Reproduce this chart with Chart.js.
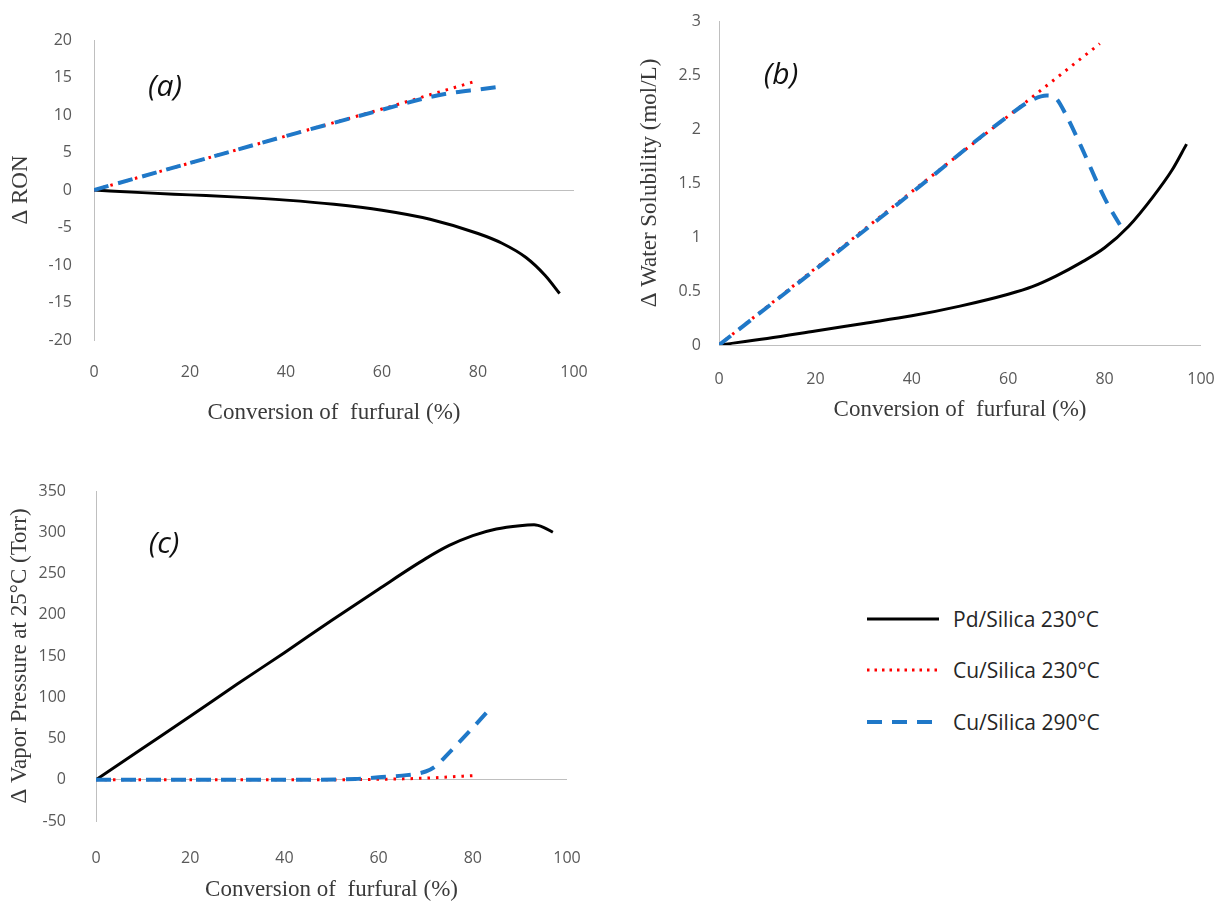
<!DOCTYPE html>
<html lang="en">
<head>
  <meta charset="UTF-8">
  <title>Furfural conversion panels</title>
  <script src="https://cdn.jsdelivr.net/npm/chart.js@4"></script>
  <style>
    body {
      margin: 0;
      background: #fff;
      overflow: hidden;
      width: 1215px;
      height: 904px;
      position: relative;
    }
    canvas { position: absolute; }
    #chartA { left: 0; top: 0; }
    #chartB { left: 600px; top: 0; }
    #chartC { left: 0; top: 460px; }
    .tag {
      position: absolute;
      font-family: "Open Sans", sans-serif;
      font-style: italic;
      font-size: 30px;
      color: #111;
      transform: translate(-50%, -50%);
    }
    .legend {
      position: absolute;
      left: 866px;
      top: 593px;
      font-family: "Open Sans", sans-serif;
      font-size: 21px;
      color: #262626;
    }
    .legend div {
      display: flex;
      align-items: center;
      height: 51.5px;
    }
    .legend svg { margin-right: 13px; }
  </style>
</head>
<body>
  <canvas id="chartA" width="600" height="440"></canvas>
  <canvas id="chartB" width="630" height="440"></canvas>
  <canvas id="chartC" width="600" height="444"></canvas>

  <div class="tag" style="left:165px; top:84px;">(a)</div>
  <div class="tag" style="left:781px; top:72px;">(b)</div>
  <div class="tag" style="left:164px; top:541px;">(c)</div>

  <div class="legend">
    <div><svg width="74" height="8"><line x1="1" y1="4" x2="73" y2="4" stroke="#000" stroke-width="3"/></svg>Pd/Silica 230°C</div>
    <div><svg width="74" height="8"><line x1="1" y1="4" x2="73" y2="4" stroke="#ff0000" stroke-width="3" stroke-dasharray="2.5 5"/></svg>Cu/Silica 230°C</div>
    <div><svg width="74" height="8"><line x1="1" y1="4" x2="73" y2="4" stroke="#1f78c8" stroke-width="4" stroke-dasharray="15 10"/></svg>Cu/Silica 290°C</div>
  </div>

  <script>
    // (a) delta RON
    const pdA_x = [0, 10, 20, 30, 40, 50, 60, 70, 80, 85, 90, 94, 97];
    const pdA_y = [0, -0.35, -0.65, -0.95, -1.35, -1.9, -2.7, -3.9, -5.8, -7.1, -9.0, -11.4, -13.8];
    const cu230A_x = [0, 20, 40, 60, 70, 79];
    const cu230A_y = [0, 3.6, 7.2, 10.8, 12.7, 14.4];
    const cu290A_x = [0, 20, 40, 60, 70, 75, 80, 85];
    const cu290A_y = [0, 3.6, 7.2, 10.7, 12.4, 13.0, 13.4, 13.8];

    // (b) delta water solubility
    const pdB_x = [0, 10, 20, 30, 40, 50, 60, 65, 70, 75, 80, 85, 90, 94, 97];
    const pdB_y = [0, 0.06, 0.13, 0.2, 0.27, 0.36, 0.47, 0.54, 0.64, 0.76, 0.9, 1.1, 1.37, 1.62, 1.86];
    const cu230B_x = [0, 20, 40, 60, 79];
    const cu230B_y = [0, 0.71, 1.42, 2.12, 2.79];
    const cu290B_x = [0, 20, 40, 60, 65, 68, 70, 72, 75, 80, 84];
    const cu290B_y = [0, 0.7, 1.41, 2.12, 2.27, 2.31, 2.28, 2.13, 1.85, 1.36, 1.05];

    // (c) delta vapor pressure
    const pdC_x = [0, 10, 20, 30, 40, 50, 60, 70, 75, 80, 85, 90, 93, 95, 97];
    const pdC_y = [0, 38.5, 77, 116, 154, 193, 231, 268, 284, 296, 304, 308, 309, 306, 300];
    const cu230C_x = [0, 20, 40, 60, 70, 80];
    const cu230C_y = [0, 0, 0, 0.5, 2, 5];
    const cu290C_x = [0, 20, 40, 55, 60, 65, 70, 72, 75, 80, 83.5];
    const cu290C_y = [0, 0, 0, 1, 3, 5, 10, 16, 33, 63, 85];

    const xTicks = { min: 0, max: 100, step: 20 };
    const yTicksA = { min: -20, max: 20, step: 5 };
    const yTicksB = { min: 0, max: 3, step: 0.5 };
    const yTicksC = { min: -50, max: 350, step: 50 };

    const tickFont = { family: '"Open Sans", sans-serif', size: 16 };
    const titleFont = { family: '"Liberation Serif", "Times New Roman", serif', size: 23 };

    function pts(xs, ys) {
      return xs.map((x, i) => ({ x: x, y: ys[i] }));
    }

    // blue first so it is painted on top, black last
    function lines(pdX, pdY, c230X, c230Y, c290X, c290Y) {
      return [
        { data: pts(c290X, c290Y), borderColor: '#1f78c8', borderWidth: 4, borderDash: [15, 10] },
        { data: pts(c230X, c230Y), borderColor: '#ff0000', borderWidth: 3, borderDash: [2.5, 6] },
        { data: pts(pdX, pdY), borderColor: '#000000', borderWidth: 3, borderDash: [] }
      ].map(d => Object.assign(d, { pointRadius: 0, fill: false, cubicInterpolationMode: 'monotone' }));
    }

    function createPanel(canvasId, datasets, yTicks, yTitle, box) {
      return new Chart(document.getElementById(canvasId), {
        type: 'line',
        data: { datasets: datasets },
        options: {
          responsive: false,
          animation: false,
          events: [],
          layout: { padding: { top: box.top, right: box.right, left: 0, bottom: 0 } },
          plugins: { legend: { display: false }, tooltip: { enabled: false } },
          scales: {
            x: {
              type: 'linear',
              min: xTicks.min,
              max: xTicks.max,
              ticks: { stepSize: xTicks.step, padding: box.xPad, color: '#595959', font: tickFont, maxRotation: 0 },
              grid: { display: false, drawTicks: false },
              border: { display: false },
              title: {
                display: true,
                text: 'Conversion of  furfural (%)',
                font: titleFont,
                color: '#3a3a3a',
                padding: { top: 0, bottom: box.xTitlePad }
              },
              // fixed box so the plot area lands where the original has it
              afterFit: s => { s.height = box.xH; s.paddingLeft = 0; s.paddingRight = 0; }
            },
            y: {
              type: 'linear',
              min: yTicks.min,
              max: yTicks.max,
              ticks: { stepSize: yTicks.step, padding: box.yPad, color: '#595959', font: tickFont, callback: v => String(v) },
              grid: {
                drawTicks: false,
                color: c => (c.tick && c.tick.value === 0) ? '#bfbfbf' : 'rgba(0,0,0,0)'
              },
              border: { display: true, color: '#bfbfbf' },
              title: {
                display: true,
                text: yTitle,
                font: titleFont,
                color: '#3a3a3a',
                padding: { top: box.yTitlePad, bottom: 0 }
              },
              afterFit: s => { s.width = box.yW; s.paddingTop = 0; s.paddingBottom = 0; }
            }
          }
        }
      });
    }

    createPanel('chartA', lines(pdA_x, pdA_y, cu230A_x, cu230A_y, cu290A_x, cu290A_y), yTicksA, 'Δ RON',
      { top: 40, right: 26, yW: 94, xH: 100, xPad: 23, yPad: 22, xTitlePad: 13, yTitlePad: 7 });

    createPanel('chartB', lines(pdB_x, pdB_y, cu230B_x, cu230B_y, cu290B_x, cu290B_y), yTicksB, 'Δ Water Solubility (mol/L)',
      { top: 21, right: 29, yW: 119, xH: 95, xPad: 25, yPad: 18, xTitlePad: 16, yTitlePad: 36 });

    createPanel('chartC', lines(pdC_x, pdC_y, cu230C_x, cu230C_y, cu290C_x, cu290C_y), yTicksC, 'Δ Vapor Pressure at 25°C (Torr)',
      { top: 31, right: 33, yW: 96, xH: 83, xPad: 28, yPad: 30, xTitlePad: 0, yTitlePad: 6 });
  </script>
</body>
</html>
